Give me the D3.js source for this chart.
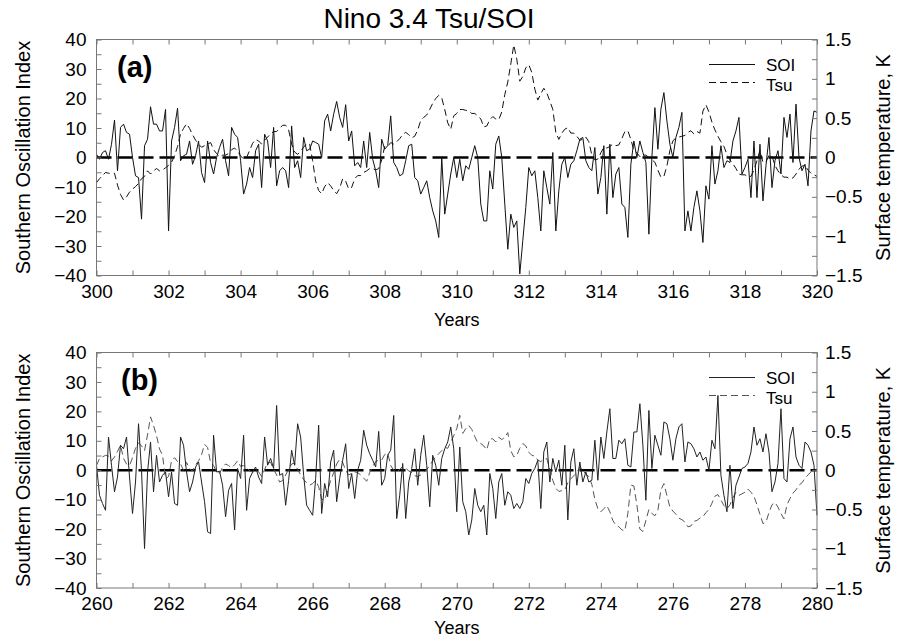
<!DOCTYPE html>
<html>
<head>
<meta charset="utf-8">
<title>Nino 3.4 Tsu/SOI</title>
<script src="https://cdn.jsdelivr.net/npm/d3@7"></script>
<style>
body { margin: 0; background: #fff; }
svg { font-family: "Liberation Sans", Arial, Helvetica, sans-serif; }
.soi { fill: none; stroke: #111; stroke-width: 1; }
.tsu { fill: none; stroke: #111; stroke-width: 1; stroke-dasharray: 7,4; }
.zero { stroke: #000; stroke-width: 2.6; stroke-dasharray: 15,6; }
.frame { fill: none; stroke: #777; stroke-width: 1; }
</style>
</head>
<body>
<script>
var width = 904, height = 640;

// monthly values (first value = start year, last = end year)
var soiA = [
  1.1, -0.6, 1.7, 2.3, -0.6, 4.5, 12.7, -4.5, 10.2, 11.3,
  8.5, 7.9, 0, -6.2, -6.8, -20.9, 4.0, 6.2, 17.2, 11.3,
  11.3, 9.0, 9.0, 16.3, -24.9, 5.6, 10.2, 16.7, -1.1, 0.6,
  1.1, 5.6, -2.3, 0.6, 5.6, -5.1, -8.5, 5.6, -1.7, -5.6,
  0, 3.4, 6.2, -1.1, -6.2, 10.2, 7.9, 6.8, -1.1, -12.4,
  -9.0, -3.4, -6.8, 2.3, 4.5, -10.2, 7.9, 5.6, -3.4, 10.2,
  -9.6, -4.5, -3.4, -4.5, -10.2, 10.7, -3.4, -1.1, -6.8, 6.8,
  2.3, 2.8, 5.6, 5.1, 4.5, 0, 12.4, 14.7, 9.0, 14.7,
  19.0, 13.6, 10.2, 17.9, 5.6, 9.0, -2.8, -1.7, -3.4, 5.6,
  -3.4, 8.5, -0.6, -4.5, -10.2, 6.2, 2.8, 4.0, 14.1, -1.7,
  -3.4, -6.2, -5.6, -1.1, 4.0, 4.5, -6.8, -7.9, -12.4, -10.2,
  -7.9, -13.6, -18.1, -21.5, -27.1, 0, -19.2, -12.4, -5.6, 0,
  -6.8, -0.6, -7.9, -2.8, -4.0, 0, 4.0, 0, -15.8, -21.5,
  -21.5, -4.5, -10.7, 4.5, 7.3, 0, -15.8, -31.1, -19.2, -23.7,
  -21.5, -39.5, -28.2, -16.9, -3.4, -6.2, -4.5, -13.6, -24.9, -4.5,
  -10.2, -15.8, 1.7, -24.9, -11.3, -2.3, 0, -6.8, -2.3, -1.1,
  2.3, 6.2, 6.8, -1.1, -3.4, -4.5, 3.4, -12.4, -6.8, 4.0,
  -19.2, 4.5, -13.6, -5.6, -3.4, -15.8, -16.9, -27.1, -2.3, 5.6,
  0, 5.6, 1.7, -1.7, -26.0, 0, 16.9, 2.8, 16.4, 22.0,
  12.4, 4.5, 0, 6.8, 10.2, 15.3, -24.9, -18.1, -24.9, -16.9,
  -11.3, -18.1, -28.8, -9.6, -14.1, 4.0, -9.0, -4.5, 4.0, -3.4,
  -1.1, -1.7, 5.6, 9.0, 13.6, -5.6, -3.4, -0.6, -13.6, 5.6,
  -13.6, 4.5, -14.7, -2.8, 6.8, -10.2, -1.1, 2.3, -5.6, 13.6,
  6.8, 14.7, -1.7, 18.1, 0, -4.5, -2.3, -9.6, 9.0, 15.8,
  15.3
];

var tsuA = [
  -0.32, -0.27, -0.23, -0.19, -0.20, -0.20, -0.20, -0.35, -0.47, -0.54,
  -0.50, -0.44, -0.40, -0.37, -0.33, -0.27, -0.24, -0.17, -0.21, -0.17,
  -0.14, -0.17, -0.16, -0.13, -0.10, -0.06, 0.02, 0.14, 0.30, 0.37,
  0.43, 0.37, 0.29, 0.22, 0.17, 0.13, 0.15, 0.17, 0.19, 0.10,
  0.05, 0.01, 0.03, 0.03, 0.05, 0.10, 0.12, 0.08, 0.02, -0.02,
  0.00, 0.09, 0.18, 0.23, 0.21, 0.17, 0.22, 0.26, 0.30, 0.33,
  0.33, 0.37, 0.41, 0.41, 0.35, 0.17, 0.07, 0.04, 0.08, 0.13,
  0.18, 0.17, -0.04, -0.30, -0.42, -0.46, -0.37, -0.32, -0.36, -0.42,
  -0.46, -0.39, -0.27, -0.30, -0.40, -0.38, -0.27, -0.23, -0.23, -0.19,
  -0.17, -0.14, -0.14, -0.16, -0.14, -0.03, 0.14, 0.14, 0.19, 0.17,
  0.20, 0.24, 0.29, 0.32, 0.29, 0.25, 0.27, 0.35, 0.47, 0.51,
  0.54, 0.61, 0.69, 0.75, 0.79, 0.76, 0.61, 0.44, 0.36, 0.53,
  0.56, 0.61, 0.61, 0.60, 0.59, 0.56, 0.56, 0.53, 0.49, 0.39,
  0.40, 0.48, 0.52, 0.49, 0.48, 0.58, 0.80, 0.96, 1.19, 1.43,
  1.25, 0.97, 1.03, 1.14, 1.18, 1.08, 0.87, 0.73, 0.81, 0.88,
  0.82, 0.72, 0.61, 0.32, 0.23, 0.31, 0.36, 0.38, 0.31, 0.31,
  0.27, 0.22, 0.23, 0.26, 0.20, 0.03, -0.03, -0.02, 0.06, 0.13,
  0.12, 0.14, 0.17, 0.15, 0.16, 0.24, 0.33, 0.34, 0.23, 0.09,
  0.06, 0.01, 0.03, 0.03, 0.00, -0.03, -0.06, -0.16, -0.25, -0.24,
  -0.11, 0.09, 0.21, 0.25, 0.26, 0.27, 0.28, 0.32, 0.34, 0.30,
  0.33, 0.31, 0.59, 0.67, 0.58, 0.45, 0.35, 0.27, 0.20, 0.14,
  0.04, -0.03, -0.08, -0.14, -0.21, -0.22, -0.22, -0.24, -0.24, -0.16,
  -0.04, 0.09, -0.06, -0.06, 0.03, 0.02, -0.10, -0.17, -0.22, -0.25,
  -0.25, -0.27, -0.26, -0.21, -0.15, -0.11, -0.10, -0.16, -0.20, -0.22,
  -0.24
];

var soiB = [
  1.7, -8.5, -11.3, -13.6, 11.3, 1.7, -7.3, -2.3, 8.5, 7.3,
  11.3, -2.3, -14.7, -4.0, 15.8, 0, -26.6, -0.6, 9.6, -7.3,
  5.1, -4.0, -1.7, -0.6, -9.0, -0.6, -11.3, -11.9, 11.3, 8.5,
  -0.6, -7.3, -4.0, 1.1, 2.8, -4.0, -10.7, -20.9, -21.5, 11.9,
  -0.6, -0.3, -5.1, -15.8, -6.8, -4.5, -20.3, 0.6, -2.8, 11.9,
  -13.6, -2.8, -0.6, 1.1, -2.3, -4.5, 11.3, 1.7, 4.0, 0.6,
  22.0, -1.7, -1.1, -11.9, -3.4, 6.8, 1.7, 15.8, 11.3, -1.7,
  -11.9, -13.6, -15.3, -2.8, 15.3, -14.7, -4.5, -9.0, 2.8, 6.8,
  -10.7, -2.8, 3.4, 9.0, -6.2, -1.1, -9.6, 0, 3.4, 13.6,
  8.5, 5.6, 3.4, 1.1, 13.2, -5.1, -2.8, 5.1, 6.8, 18.6,
  -16.4, -8.5, 2.3, -16.4, -4.0, 0.6, 7.3, -5.1, 5.1, 11.9,
  1.7, -12.4, 5.1, 1.7, -5.1, 4.0, 7.3, 9.6, 14.7, 7.3,
  -14.1, 7.9, -10.7, -14.1, -22.0, -16.9, -6.2, -11.9, -14.1, -11.9,
  -22.0, -1.1, -6.2, -16.4, -4.0, -1.1, -11.9, -7.3, -8.5, -13.0,
  -11.3, -13.0, -10.7, -2.8, -4.5, -1.1, 0.6, 3.4, -13.0, 6.2,
  9.6, -4.0, 4.0, -0.6, 3.4, -5.1, 8.5, -16.9, 2.8, 7.3,
  -5.1, 2.8, -4.0, -0.6, -4.0, -3.4, 10.2, -3.4, 11.3, 4.0,
  13.0, 20.9, 4.0, 4.0, 10.2, 9.0, 10.7, 1.7, 1.1, 13.0,
  13.0, 22.6, 8.5, -10.2, 20.3, 0.6, 11.9, 8.5, 5.1, 16.4,
  15.8, 10.7, 3.4, 10.7, 14.7, 15.8, 2.8, 9.6, 9.0, 7.3,
  4.5, 6.2, 3.4, 4.5, 0, 10.2, 7.3, 25.4, -1.7, -8.5,
  -14.1, 1.7, -13.0, -5.1, -2.3, 0.6, 1.1, 2.3, 6.2, 14.7,
  8.5, 10.7, 6.2, 12.4, 6.2, -7.3, -4.0, 2.3, 20.9, -2.8,
  -4.0, 10.7, 14.7, 4.5, 1.7, 0.6, 9.6, 8.5, 6.2, 1.7,
  -15.3
];

var tsuB = [
  0.06, 0.15, 0.17, 0.19, 0.18, 0.12, 0.17, 0.24, 0.32, 0.15,
  0.08, 0.06, 0.16, 0.28, 0.35, 0.31, 0.25, 0.45, 0.68, 0.57,
  0.44, 0.27, 0.19, -0.11, -0.08, 0.12, 0.16, 0.11, 0.08, 0.00,
  0.10, 0.02, -0.01, 0.07, 0.12, 0.20, 0.33, 0.29, 0.10, 0.06,
  -0.02, -0.04, 0.04, 0.08, 0.06, 0.03, 0.07, 0.12, 0.05, 0.06,
  0.04, -0.01, -0.02, -0.02, -0.02, -0.08, 0.01, 0.10, 0.10, 0.01,
  -0.06, -0.15, -0.13, -0.06, 0.01, 0.08, 0.09, 0.01, -0.06, -0.12,
  -0.16, -0.19, -0.17, -0.13, -0.21, -0.37, -0.38, -0.26, -0.13, -0.03,
  0.08, 0.14, 0.10, 0.00, -0.06, -0.04, -0.02, -0.03, -0.06, -0.10,
  -0.14, -0.03, 0.05, 0.11, 0.13, 0.13, 0.20, 0.22, 0.06, 0.00,
  -0.02, 0.01, 0.05, 0.03, -0.01, -0.03, -0.07, -0.08, -0.06, -0.03,
  0.01, 0.06, 0.12, 0.17, 0.21, 0.25, 0.29, 0.28, 0.36, 0.44,
  0.53, 0.70, 0.47, 0.53, 0.57, 0.52, 0.43, 0.35, 0.34, 0.31,
  0.26, 0.40, 0.40, 0.36, 0.42, 0.39, 0.42, 0.48, 0.25, 0.17,
  0.19, 0.28, 0.34, 0.31, 0.23, 0.19, 0.18, 0.13, 0.11, 0.14,
  0.15, 0.01, -0.13, -0.23, -0.27, -0.26, -0.25, -0.16, -0.11, -0.07,
  -0.03, 0.04, 0.00, -0.05, -0.08, -0.18, -0.37, -0.49, -0.53, -0.49,
  -0.45, -0.53, -0.64, -0.70, -0.72, -0.76, -0.77, -0.55, -0.19, -0.20,
  -0.44, -0.75, -0.78, -0.64, -0.50, -0.55, -0.58, -0.51, -0.25, -0.17,
  -0.32, -0.47, -0.52, -0.56, -0.61, -0.63, -0.66, -0.72, -0.71, -0.65,
  -0.64, -0.61, -0.59, -0.54, -0.50, -0.42, -0.33, -0.31, -0.38, -0.45,
  -0.49, -0.44, -0.35, -0.28, -0.32, -0.30, -0.28, -0.24, -0.28, -0.33,
  -0.44, -0.56, -0.68, -0.66, -0.54, -0.44, -0.41, -0.47, -0.55, -0.62,
  -0.44, -0.36, -0.29, -0.25, -0.19, -0.16, -0.10, -0.06, -0.02, 0.00,
  0.00
];

var soiTicks = d3.range(-40, 41, 5);
var tsuTicks = d3.range(-1.5, 1.51, 0.25);

var panels = [
  {label: "(a)", start: 300, soi: soiA, tsu: tsuA, top: 39.5, bottom: 275.5, yearsY: 326, color: "#111", tsuColor: "#111"},
  {label: "(b)", start: 260, soi: soiB, tsu: tsuB, top: 352.5, bottom: 588, yearsY: 634, color: "#222", tsuColor: "#555"}
];

var left = 96.5, right = 817;

var svg = d3.select("body").append("svg")
    .attr("width", width)
    .attr("height", height);

svg.append("text")
    .attr("x", 429).attr("y", 28)
    .attr("text-anchor", "middle")
    .attr("font-size", 28)
    .text("Nino 3.4 Tsu/SOI");

panels.forEach(function(p) {
  var x = d3.scaleLinear().domain([p.start, p.start + 20]).range([left, right]);
  var y = d3.scaleLinear().domain([-40, 40]).range([p.bottom, p.top]);
  var y2 = d3.scaleLinear().domain([-1.5, 1.5]).range([p.bottom, p.top]);
  var years = d3.range(p.start, p.start + 21);

  var g = svg.append("g");

  // zero line
  g.append("line").attr("class", "zero")
      .attr("x1", left).attr("x2", right)
      .attr("y1", y(0)).attr("y2", y(0));

  var lineSoi = d3.line()
      .x(function(d, i) { return x(p.start + i / 12); })
      .y(function(d) { return y(d); });
  var lineTsu = d3.line()
      .x(function(d, i) { return x(p.start + i / 12); })
      .y(function(d) { return y2(d); });

  g.append("path").datum(p.tsu).attr("class", "tsu")
      .style("stroke", p.tsuColor)
      .attr("d", lineTsu);
  g.append("path").datum(p.soi).attr("class", "soi")
      .style("stroke", p.color)
      .attr("d", lineSoi);

  // axes, ticks pointing inwards
  var bottomAxis = g.append("g")
      .attr("transform", "translate(0," + p.bottom + ")")
      .call(d3.axisBottom(x).tickValues(years).tickSize(-5).tickPadding(9)
        .tickFormat(function(d) { return d % 2 === 0 ? d : ""; }));
  var topAxis = g.append("g")
      .attr("transform", "translate(0," + p.top + ")")
      .call(d3.axisTop(x).tickValues(years).tickSize(-5).tickFormat(""));
  var leftAxis = g.append("g")
      .attr("transform", "translate(" + left + ",0)")
      .call(d3.axisLeft(y).tickValues(soiTicks).tickSize(-5).tickPadding(10)
        .tickFormat(function(d) { return d % 10 === 0 ? d3.format("d")(d) : ""; }));
  var rightAxis = g.append("g")
      .attr("transform", "translate(" + right + ",0)")
      .call(d3.axisRight(y2).tickValues(tsuTicks).tickSize(-5).tickPadding(8)
        .tickFormat(function(d) { return Math.round(d * 4) % 2 === 0 ? d3.format("~g")(d) : ""; }));

  [bottomAxis, topAxis, leftAxis, rightAxis].forEach(function(a) {
    a.attr("font-family", null).attr("font-size", 19);
    a.select(".domain").remove();
    a.selectAll(".tick line").attr("stroke", "#777");
    a.selectAll(".tick text").attr("fill", "#000");
  });

  g.append("rect").attr("class", "frame")
      .attr("x", left).attr("y", p.top)
      .attr("width", right - left).attr("height", p.bottom - p.top);

  // panel letter
  g.append("text")
      .attr("x", p.label === "(a)" ? 117 : 121).attr("y", p.top + 37)
      .attr("font-size", 29).attr("font-weight", "bold")
      .text(p.label);

  // axis titles
  g.append("text")
      .attr("transform", "translate(30," + ((p.top + p.bottom) / 2) + ") rotate(-90)")
      .attr("text-anchor", "middle").attr("font-size", 20)
      .text("Southern Oscillation Index");
  g.append("text")
      .attr("transform", "translate(890," + ((p.top + p.bottom) / 2) + ") rotate(-90)")
      .attr("text-anchor", "middle").attr("font-size", 20)
      .text("Surface temperature,  K");
  g.append("text")
      .attr("x", (left + right) / 2).attr("y", p.yearsY)
      .attr("text-anchor", "middle").attr("font-size", 18)
      .text("Years");

  // legend
  var ly = p.top + 25;
  g.append("line").attr("x1", 709).attr("x2", 755).attr("y1", ly).attr("y2", ly)
      .attr("stroke", p.color).attr("stroke-width", 1);
  g.append("text").attr("x", 766).attr("y", ly + 6).attr("font-size", 17).text("SOI");
  g.append("line").attr("x1", 709).attr("x2", 755).attr("y1", ly + 18).attr("y2", ly + 18)
      .attr("stroke", p.tsuColor).attr("stroke-width", 1).attr("stroke-dasharray", "7,4");
  g.append("text").attr("x", 766).attr("y", ly + 26).attr("font-size", 17).text("Tsu");
});
</script>
</body>
</html>
